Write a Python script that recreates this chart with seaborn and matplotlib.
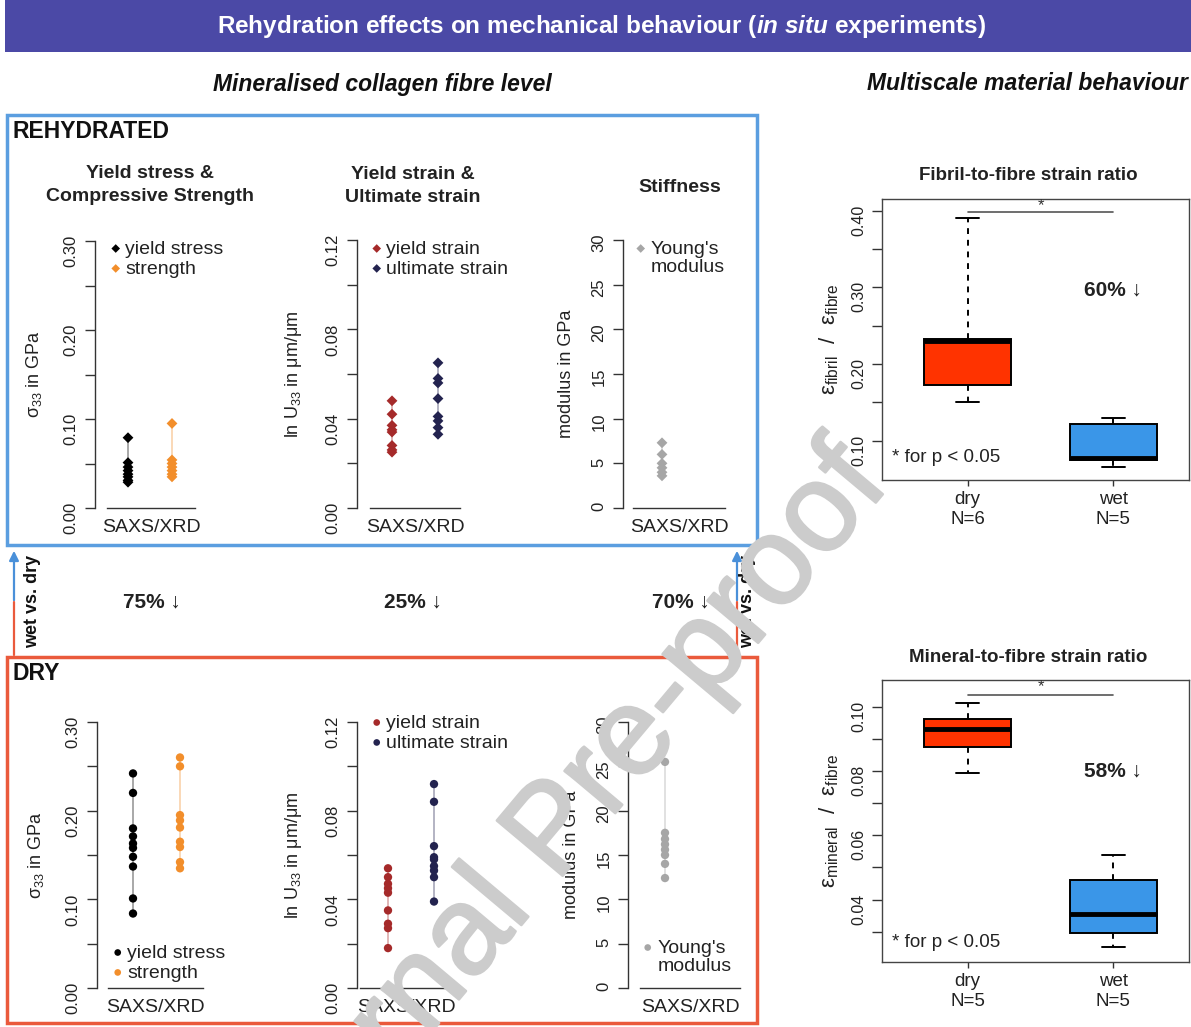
import numpy as np
import pandas as pd
import matplotlib
matplotlib.use("Agg")
import matplotlib.pyplot as plt
import matplotlib.patheffects as pe
import seaborn as sns
from matplotlib.patches import Rectangle, FancyArrowPatch
from matplotlib.collections import PathCollection

# ---------------- data ----------------
# rehydrated (wet) fibre-level results
wet_yield_stress = [0.079, 0.051, 0.046, 0.042, 0.038, 0.035, 0.031, 0.029]
wet_strength = [0.095, 0.054, 0.050, 0.046, 0.042, 0.038, 0.035]
wet_yield_strain = [0.048, 0.042, 0.037, 0.035, 0.034, 0.028, 0.026, 0.025]
wet_ultimate_strain = [0.065, 0.058, 0.056, 0.049, 0.041, 0.039, 0.036, 0.033]
wet_modulus = [7.3, 6.0, 5.0, 4.5, 4.0, 3.6]

# dry fibre-level results
dry_yield_stress = [0.242, 0.220, 0.180, 0.171, 0.163, 0.158, 0.148, 0.137, 0.101, 0.084]
dry_strength = [0.260, 0.250, 0.195, 0.189, 0.181, 0.165, 0.159, 0.142, 0.135]
dry_yield_strain = [0.054, 0.050, 0.047, 0.045, 0.043, 0.035, 0.029, 0.027, 0.018]
dry_ultimate_strain = [0.092, 0.084, 0.064, 0.059, 0.058, 0.055, 0.053, 0.050, 0.039]
dry_modulus = [25.5, 17.5, 16.8, 16.2, 15.6, 15.0, 14.0, 12.4]

# multiscale strain ratios
fibril_ratio_dry = [0.151, 0.1547, 0.228, 0.231, 0.2333, 0.390]
fibril_ratio_wet = [0.0665, 0.075, 0.0774, 0.122, 0.130]
mineral_ratio_dry = [0.0793, 0.0875, 0.0930, 0.0962, 0.1011]
mineral_ratio_wet = [0.0253, 0.0297, 0.0354, 0.0460, 0.0538]

stress_names = ["yield stress", "strength"]
strain_names = ["yield strain", "ultimate strain"]
modulus_names = ["Young's\nmodulus"]
stress_colors = ["#000000", "#f28e2b"]
strain_colors = ["#a52a2a", "#23234f"]
modulus_colors = ["#a6a6a6"]

fibre_reductions = ["75% ↓", "25% ↓", "70% ↓"]
fibril_reduction = "60% ↓"
mineral_reduction = "58% ↓"
box_colors = ["#ff3300", "#3a96e8"]

# ---------------- figure ----------------
sns.set_theme(style="ticks")
plt.rcParams["font.family"] = ["Liberation Sans", "DejaVu Sans"]
plt.rcParams["mathtext.fontset"] = "custom"
plt.rcParams["mathtext.rm"] = "Liberation Sans"
plt.rcParams["mathtext.it"] = "Liberation Sans:italic"
plt.rcParams["mathtext.bf"] = "Liberation Sans:bold"
plt.rcParams["mathtext.bfit"] = "Liberation Sans:italic:bold"
plt.rcParams["axes.edgecolor"] = "#333333"
plt.rcParams["axes.linewidth"] = 1.0

W, H = 1191, 1027
fig = plt.figure(figsize=(W / 100, H / 100), dpi=100)
fig.patch.set_facecolor("white")


def fx(x):
    return x / W


def fy(y):
    return 1 - y / H


def px_axes(left, top, right, bottom):
    ax = fig.add_axes([fx(left), fy(bottom), (right - left) / W, (bottom - top) / H])
    ax.patch.set_alpha(0)
    return ax


def ftext(x, y, s, **kw):
    kw.setdefault("ha", "center")
    kw.setdefault("va", "center")
    return fig.text(fx(x), fy(y), s, **kw)


def strip_panel(spine_x, cat_px, line_px, y_bottom, y_top, ymax, tick_step, label_every,
                fmt, series, names, colors, marker, msize, ylabel, ylabel_px, legend_px):
    step = cat_px[1] - cat_px[0] if len(cat_px) > 1 else 44.0
    right_px = line_px[1] + 4
    ax = px_axes(spine_x, y_top, right_px, y_bottom)
    df = pd.DataFrame({
        "measure": np.repeat(names, [len(s) for s in series]),
        "value": np.concatenate(series),
    })
    for i, (s, c) in enumerate(zip(series, colors)):
        ax.vlines(i, min(s), max(s), color=c, alpha=0.4, lw=1.2, zorder=1)
    sns.stripplot(data=df, x="measure", y="value", hue="measure", order=names,
                  hue_order=names, palette=colors, jitter=False, marker=marker,
                  size=msize, linewidth=0, ax=ax, zorder=3, clip_on=False, legend=False)
    ax.set_xlim((spine_x - cat_px[0]) / step, (right_px - cat_px[0]) / step)
    ax.set_ylim(0, ymax)
    ticks = np.arange(0, ymax + tick_step / 2, tick_step)
    ax.set_yticks(ticks)
    ax.set_yticklabels([fmt(t) if i % label_every == 0 else "" for i, t in enumerate(ticks)])
    ax.tick_params(axis="y", length=7, width=1, color="#333333", labelsize=12,
                   labelrotation=90, pad=5, labelcolor="#222222")
    ax.set_xticks([])
    ax.set_xlabel("")
    ax.spines["top"].set_visible(False)
    ax.spines["right"].set_visible(False)
    ax.spines["left"].set_bounds(0, ymax)
    ax.spines["bottom"].set_bounds((line_px[0] - cat_px[0]) / step, (line_px[1] - cat_px[0]) / step)
    ax.set_ylabel(ylabel, fontsize=13, color="#222222")
    ax.yaxis.set_label_coords((ylabel_px - spine_x) / (right_px - spine_x), 0.5)
    ftext((line_px[0] + line_px[1]) / 2, y_bottom + 19, "SAXS/XRD", fontsize=14, color="#222222")
    # legend built from the point collections drawn above; extra label lines
    # are hung below the first one so the marker sits beside the first line
    handles = [c for c in ax.collections if isinstance(c, PathCollection)]
    first_lines = [n.split("\n")[0] for n in names]
    leg = ax.legend(handles, first_lines, loc="upper left",
                    bbox_to_anchor=((legend_px[0] - spine_x) / (right_px - spine_x),
                                    (y_bottom - legend_px[1]) / (y_bottom - y_top)),
                    frameon=False, fontsize=14, handletextpad=0.0, labelspacing=0.12,
                    borderaxespad=0, borderpad=0, handlelength=1.0, markerscale=0.8,
                    scatterpoints=1, labelcolor="#222222")
    for n, t in zip(names, leg.get_texts()):
        rest = n.split("\n")[1:]
        if rest:
            ax.annotate("\n".join(rest), xy=(0, 0), xycoords=t, xytext=(0, -1),
                        textcoords="offset points", ha="left", va="top", fontsize=14,
                        color="#222222", zorder=10, annotation_clip=False)
    return ax


def box_panel(top, bottom, dry, wet, ylim, ticks, ylabel, title, reduction,
              red_y, note_y, bracket_y, star_y, label_test):
    left, right = 882, 1189
    dry_px, step = 967.7, 145.6
    ax = px_axes(left, top, right, bottom)
    df = pd.DataFrame({
        "state": ["dry"] * len(dry) + ["wet"] * len(wet),
        "ratio": list(dry) + list(wet),
    })
    sns.boxplot(data=df, x="state", y="ratio", hue="state", order=["dry", "wet"],
                hue_order=["dry", "wet"], palette=box_colors, saturation=1, width=0.6,
                whis=(0, 100), linecolor="black", linewidth=1.4, legend=False,
                medianprops=dict(linewidth=3.5, color="black"),
                whiskerprops=dict(linestyle=(0, (3, 3))), ax=ax)
    ends = {v for s in (dry, wet) for v in (min(s), max(s))}
    for ln in ax.lines:
        xd, yd = np.asarray(ln.get_xdata(), float), np.asarray(ln.get_ydata(), float)
        if len(xd) == 2 and yd[0] == yd[1] and any(abs(yd[0] - e) < 1e-9 for e in ends):
            c = xd.mean()
            ln.set_xdata([c - 0.08, c + 0.08])
            ln.set_linestyle("-")
    ax.set_xlim((left - dry_px) / step, (right - dry_px) / step)
    ax.set_ylim(*ylim)
    ax.set_yticks(ticks)
    ax.set_yticklabels([f"{t:.2f}" if label_test(t) else "" for t in ticks])
    ax.tick_params(axis="y", length=7, width=1, color="#333333", labelsize=11.5,
                   labelrotation=90, pad=4, labelcolor="#222222")
    ax.set_xticks([0, 1])
    ax.set_xticklabels([f"dry\nN={len(dry)}", f"wet\nN={len(wet)}"], linespacing=1.25)
    ax.tick_params(axis="x", length=4, width=1, color="#333333", labelsize=13.5,
                   pad=4, labelcolor="#222222")
    ax.set_xlabel("")
    ax.set_ylabel(ylabel, fontsize=16, color="#222222", labelpad=8)
    for sp in ax.spines.values():
        sp.set_color("#444444")
    ax.plot([0, 1], [bracket_y, bracket_y], color="#555555", lw=1.2)
    ax.text(0.5, star_y, "*", ha="center", va="center", fontsize=12, color="#333333")
    ax.text(1, red_y, reduction, ha="center", va="center", fontsize=15,
            fontweight="bold", color="#222222")
    ax.text(-0.52, note_y, "* for p < 0.05", ha="left", va="center", fontsize=13.5,
            color="#222222")
    ftext((left + right) / 2 - 7, top - 23, title, fontsize=13.5, fontweight="bold",
          color="#222222")
    return ax


def fmt2(v):
    return f"{v:.2f}"


def fmt0(v):
    return f"{v:.0f}"


# ---------------- header and frames ----------------
fig.add_artist(Rectangle((fx(5), fy(52)), (W - 5) / W, 52 / H, transform=fig.transFigure,
                         facecolor="#4b49a6", edgecolor="none"))
ftext(601, 27, "Rehydration effects on mechanical behaviour ($\\mathbfit{in\\ situ}$ experiments)",
      fontsize=17.5, fontweight="bold", color="white")
ftext(382, 84, "Mineralised collagen fibre level", fontsize=16.5, fontweight="bold",
      fontstyle="italic", color="#111111")
ftext(1027, 84, "Multiscale material behaviour", fontsize=16.5, fontweight="bold",
      fontstyle="italic", color="#111111")

fig.add_artist(Rectangle((fx(7), fy(545)), 750 / W, 430 / H, transform=fig.transFigure,
                         facecolor="none", edgecolor="#5b9ee0", lw=2.5))
fig.add_artist(Rectangle((fx(7), fy(1023)), 750 / W, 366 / H, transform=fig.transFigure,
                         facecolor="none", edgecolor="#ea5a3c", lw=2.5))
ftext(12, 131, "REHYDRATED", fontsize=16.5, fontweight="bold", ha="left", color="#111111")
ftext(12, 673, "DRY", fontsize=16.5, fontweight="bold", ha="left", color="#111111")

# wet vs. dry arrows
for ax_x, tx in ((14, 33), (737, 748)):
    fig.add_artist(plt.Line2D([fx(ax_x), fx(ax_x)], [fy(655), fy(602)],
                              transform=fig.transFigure, color="#ea5a3c", lw=1.6))
    fig.add_artist(FancyArrowPatch((fx(ax_x), fy(603)), (fx(ax_x), fy(548)),
                                   transform=fig.transFigure, arrowstyle="-|>",
                                   mutation_scale=14, color="#4a90d9", lw=1.6))
    ftext(tx, 601, "wet vs. dry", rotation=90, fontsize=13, fontweight="bold",
          color="#111111")

for x, s in zip((152, 413, 681), fibre_reductions):
    ftext(x, 602, s, fontsize=15, fontweight="bold", color="#222222")

# ---------------- panel titles ----------------
ftext(150, 185, "Yield stress &\nCompressive Strength", fontsize=14, fontweight="bold",
      color="#222222", linespacing=1.45)
ftext(413, 186, "Yield strain &\nUltimate strain", fontsize=14, fontweight="bold",
      color="#222222", linespacing=1.45)
ftext(680, 187, "Stiffness", fontsize=14, fontweight="bold", color="#222222")

# ---------------- rehydrated panels ----------------
strip_panel(95, [128, 172], [107, 195], 508, 241, 0.30, 0.05, 2, fmt2,
            [wet_yield_stress, wet_strength], stress_names, stress_colors, "D", 5.5,
            "σ$_{33}$ in GPa", 44, (106, 240))
strip_panel(357, [392, 438], [370, 460], 508, 240, 0.12, 0.02, 2, fmt2,
            [wet_yield_strain, wet_ultimate_strain], strain_names, strain_colors, "D", 5.5,
            "ln U$_{33}$ in μm/μm", 304, (367, 240))
strip_panel(623, [662], [633, 725], 508, 240, 30, 5, 1, fmt0,
            [wet_modulus], modulus_names, modulus_colors, "D", 5.5,
            "modulus in GPa", 575, (631, 240))

# ---------------- dry panels ----------------
strip_panel(97, [133, 180], [108, 203], 988, 722, 0.30, 0.05, 2, fmt2,
            [dry_yield_stress, dry_strength], stress_names, stress_colors, "o", 6,
            "σ$_{33}$ in GPa", 46, (108, 944))
strip_panel(357, [388, 434], [360, 453], 988, 722, 0.12, 0.02, 2, fmt2,
            [dry_yield_strain, dry_ultimate_strain], strain_names, strain_colors, "o", 6,
            "ln U$_{33}$ in μm/μm", 304, (367, 714))
strip_panel(628, [665], [640, 740], 988, 722, 30, 5, 1, fmt0,
            [dry_modulus], modulus_names, modulus_colors, "o", 6,
            "modulus in GPa", 580, (638, 939))

# ---------------- multiscale box plots ----------------
box_panel(199, 480, fibril_ratio_dry, fibril_ratio_wet, (0.049, 0.415),
          np.arange(0.10, 0.401, 0.05),
          "ε$_{\\mathregular{fibril}}$  /  ε$_{\\mathregular{fibre}}$",
          "Fibril-to-fibre strain ratio", fibril_reduction, 0.297, 0.078, 0.398, 0.407,
          lambda t: round(t * 100) % 10 == 0)
box_panel(680, 962, mineral_ratio_dry, mineral_ratio_wet, (0.0206, 0.1083),
          np.arange(0.03, 0.1001, 0.01),
          "ε$_{\\mathregular{mineral}}$  /  ε$_{\\mathregular{fibre}}$",
          "Mineral-to-fibre strain ratio", mineral_reduction, 0.080, 0.0267, 0.1036, 0.1062,
          lambda t: round(t * 100) % 2 == 0)

# ---------------- watermark ----------------
ftext(556, 834, "Journal Pre-proof", fontsize=90, color="#cccccc",
      rotation=50, rotation_mode="anchor", zorder=100,
      path_effects=[pe.withStroke(linewidth=1.8, foreground="#cccccc")])

fig.savefig("out.png", dpi=100, facecolor="white")
